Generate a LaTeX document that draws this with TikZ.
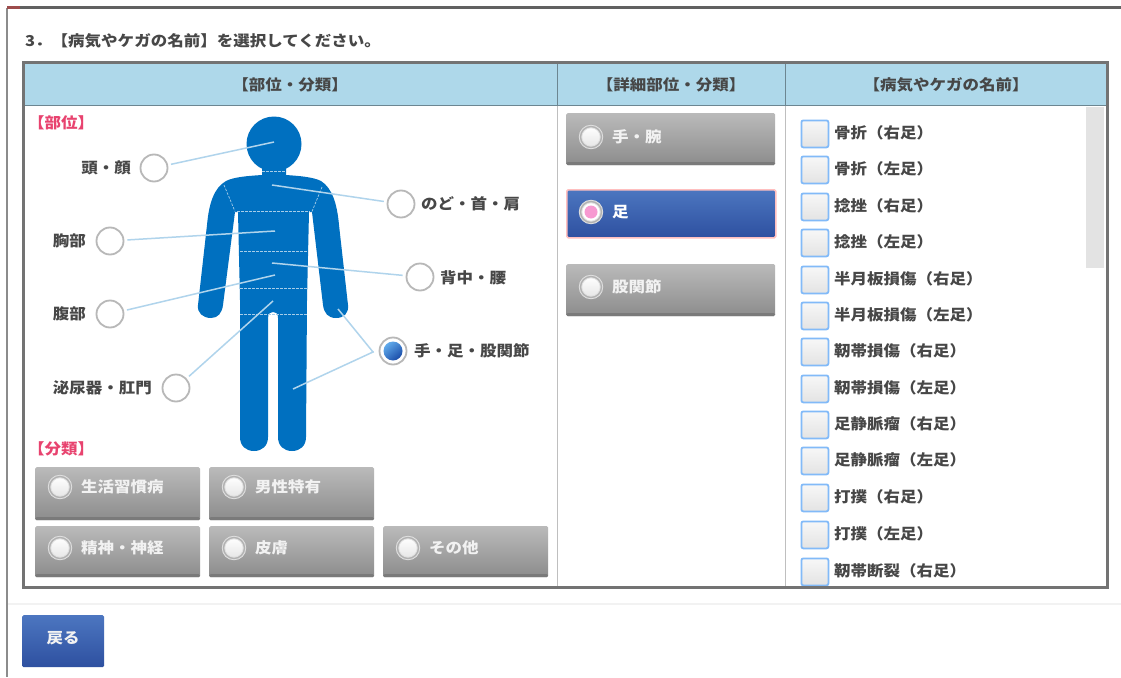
\documentclass[tikz,border=0pt]{standalone}
\usepackage{fontspec}
\setmainfont{Noto Sans CJK JP}[FakeStretch=1.1]
\begin{document}
\begin{tikzpicture}[x=1pt,y=-1pt,
  txt/.style={inner sep=0pt,font=\fontsize{15}{17}\selectfont\bfseries,text=black!72},
  hdr/.style={txt},
  red label/.style={txt,text={rgb,255:red,232;green,67;blue,111}},
  btn text/.style={inner sep=0pt,anchor=west,font=\fontsize{15}{17}\selectfont\bfseries,text=white!95!black},
  leader/.style={draw=leadc,line width=1.5pt,shorten <=3pt},
  radio/.style={circle,draw=black!28,line width=1.8pt,fill=white,minimum size=27pt,inner sep=0pt},
  btn radio/.style={circle,draw=white!88!black,line width=1pt,top color=white,bottom color=black!10,minimum size=21pt,inner sep=0pt,
     double=black!30,double distance=1.4pt},
  gray btn/.style={anchor=north west,inner sep=0pt,rounded corners=1.5pt,top color=btnTop,bottom color=btnBot,
     path picture={\fill[black!52] ([yshift=3pt]path picture bounding box.south west) rectangle (path picture bounding box.south east);}},
  blue btn/.style={anchor=north west,inner sep=0pt,rounded corners=1.5pt,top color=bluTop,bottom color=bluBot},
  check/.style={anchor=north west,draw=chk,line width=1.8pt,rounded corners=2pt,top color=black!3,bottom color=black!11,minimum width=27pt,minimum height=27pt,inner sep=0pt},
  cut/.style={draw=white!65!bodyc,line width=.7pt,dash pattern=on 2.5pt off 1.5pt}
]
\definecolor{leadc}{RGB}{176,212,236}
\definecolor{bodyc}{RGB}{0,112,192}
\definecolor{btnTop}{RGB}{186,186,186}
\definecolor{btnBot}{RGB}{140,140,140}
\definecolor{bluTop}{RGB}{76,118,192}
\definecolor{bluBot}{RGB}{46,80,160}
\definecolor{chk}{RGB}{130,186,248}
\definecolor{headc}{RGB}{174,216,234}
\definecolor{ballA}{RGB}{96,170,235}
\definecolor{ballB}{RGB}{26,76,168}
\useasboundingbox (0,0) rectangle (1121,677);
\fill[white] (0,0) rectangle (1121,677);
% window edge
\fill[black!62] (7,6) rectangle (1121,9);
\fill[black!45] (6,8) rectangle (8,677);
\fill[red!45!black!70] (7,6) rectangle (20,9);
\fill[black!5] (8,603) rectangle (1121,605);
% title
\node[txt,anchor=west] (title) at (25,41) {3．【病気やケガの名前】を選択してください。};
% header band
\fill[headc] (23,62) rectangle (1108,105);
\draw[black!38!headc,line width=1pt] (23,105.5) -- (1108,105.5);
\draw[black!38!headc,line width=1pt] (557.5,62) -- (557.5,105);
\draw[black!38!headc,line width=1pt] (785.5,62) -- (785.5,105);
\draw[black!25,line width=1pt] (557.5,106) -- (557.5,587);
\draw[black!25,line width=1pt] (785.5,106) -- (785.5,587);
\node[hdr] (h1) at (290,85) {【部位・分類】};
\node[hdr] (h2) at (671,85) {【詳細部位・分類】};
\node[hdr] (h3) at (946,85) {【病気やケガの名前】};
\node[red label,anchor=west] (l1) at (28,123) {【部位】};
\node[red label,anchor=west] (l2) at (28,449) {【分類】};
% figure
\fill[bodyc] (274,144) circle (27.5);
\fill[bodyc] (262,165) -- (262,175) .. controls (247,176) and (234,177) .. (226,181)
  .. controls (214,188) and (209,203) .. (207,225) -- (198,305)
  .. controls (197,313) and (203,318) .. (211,318) .. controls (218,318) and (222,313) .. (223,305)
  -- (235,212) -- (238,212) -- (240,300) -- (240,437)
  .. controls (240,446) and (246,451) .. (254,451) .. controls (262,451) and (268,446) .. (268,437)
  -- (268,318) .. controls (268,313) and (271,312) .. (273,312) .. controls (276,312) and (278,313) .. (278,318)
  -- (278,437) .. controls (278,446) and (284,451) .. (292,451) .. controls (300,451) and (306,446) .. (306,437)
  -- (307,300) -- (309,212) -- (312,212) -- (323,305)
  .. controls (324,313) and (328,318) .. (336,318) .. controls (344,318) and (349,313) .. (348,305)
  -- (339,225) .. controls (337,203) and (332,188) .. (321,181)
  .. controls (313,177) and (300,176) .. (286,175) -- (286,165) -- cycle;
\draw[cut] (262,171.5) -- (286,171.5);
\draw[cut] (224,185) -- (235,211.5);
\draw[cut] (322,187) -- (312,211.5);
\draw[cut] (237,211.5) -- (310,211.5);
\draw[cut] (240,251) -- (307,251);
\draw[cut] (240,288.5) -- (307,288.5);
\draw[cut] (240,314.5) -- (307,314.5);
% free ends of the leaders
\coordinate (t1) at (274,142);
\coordinate (t2) at (272,185);
\coordinate (t3) at (275,231);
\coordinate (t4) at (272,263);
\coordinate (t5) at (275,275);
\coordinate (t6) at (273,301);
\coordinate (t7) at (338,309);
\coordinate (t8) at (293,389);
\coordinate (joint) at (373,352);
% radios
\node[radio] (r1) at (154,168) {};
\node[radio] (r2) at (401,204) {};
\node[radio] (r3) at (110,241) {};
\node[radio] (r4) at (420,277) {};
\node[radio] (r5) at (110,314) {};
\node[radio] (r6) at (393,351) {};
\node[radio] (r7) at (176,388) {};
\node[circle,inner sep=0pt,minimum size=19pt,top color=ballA,bottom color=ballB,shading angle=40] (r6i) at (393,351) {};
\path[leader] (r1) edge (t1) (r2) edge (t2) (r3) edge (t3) (r4) edge (t4) (r5) edge (t5) (r7) edge (t6);
\draw[leadc,line width=1.5pt] (t7) -- (joint) -- (t8);
\path[leader,shorten <=5pt] (r6) edge (joint);
\node[txt,anchor=east] (n1) at (131,168) {頭・顔};
\node[txt,anchor=west] (n2) at (421,204) {のど・首・肩};
\node[txt,anchor=east] (n3) at (86,241) {胸部};
\node[txt,anchor=west] (n4) at (440,278) {背中・腰};
\node[txt,anchor=east] (n5) at (86,314) {腹部};
\node[txt,anchor=west] (n6) at (414,351) {手・足・股関節};
\node[txt,anchor=east] (n7) at (152,388) {泌尿器・肛門};
% gray buttons
\foreach \n/\x/\y/\w/\h/\ty/\t in {
  a/35/467/165/53/487/生活習慣病,
  b/209/467/165/53/487/男性特有,
  c/35/526/165/51/548/精神・神経,
  d/209/526/165/51/548/皮膚,
  e/383/526/165/51/548/その他,
  f/566/113/209/52/137/手・腕,
  h/566/264/209/52/287/股関節}{
  \node[gray btn,minimum width=\w pt,minimum height=\h pt] (btn\n) at (\x,\y) {};
  \node[btn radio] (rad\n) at (\x+25,\ty) {};
  \node[btn text] (lab\n) at (\x+46,\ty) {\t};
}
% selected button
\node[blue btn,minimum width=209pt,minimum height=48pt,draw=red!25!white,line width=1.5pt] (btng) at (566,189) {};
\node[btn radio,fill=none,top color=white,bottom color=white] (radg) at (591,212) {};
\fill[magenta!40!white] (radg.center) circle (6.5);
\node[btn text,text=white] (labg) at (612,212) {足};
% scrollbar
\fill[black!11] (1086,107) rectangle (1104,268);
% check list
\begin{scope}
\clip (786,106) rectangle (1106,585);
\foreach \n/\y/\t in {
  1/133/骨折（右足）,2/169/骨折（左足）,3/206/捻挫（右足）,4/242/捻挫（左足）,
  5/279/半月板損傷（右足）,6/315/半月板損傷（左足）,7/351/靭帯損傷（右足）,
  8/388/靭帯損傷（左足）,9/424/足静脈瘤（右足）,10/460/足静脈瘤（左足）,
  11/497/打撲（右足）,12/534/打撲（左足）,13/571/靭帯断裂（右足）}{
  \node[check] (chk\n) at (800.5,\y-13.5) {};
  \node[txt,anchor=west] (item\n) at (834,\y) {\t};
}
\end{scope}
% table frame
\draw[black!55,line width=3pt] (23.5,62.5) rectangle (1107.5,587);
% back button
\node[blue btn,minimum width=82pt,minimum height=52pt] (back) at (22,615) {};
\node[btn text,anchor=center] (backl) at (63,638) {戻る};
\end{tikzpicture}
\end{document}
